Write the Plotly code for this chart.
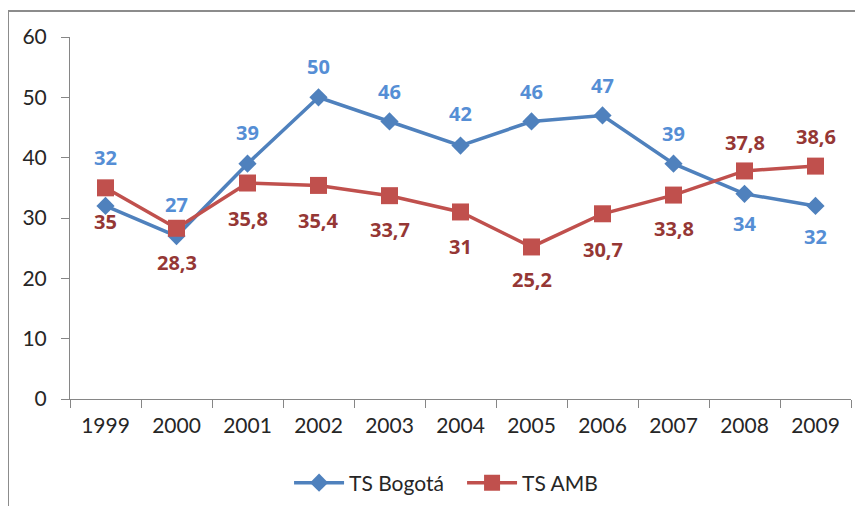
import plotly.graph_objects as go

years = ["1999", "2000", "2001", "2002", "2003", "2004", "2005", "2006", "2007", "2008", "2009"]
ts_bogota = [32, 27, 39, 50, 46, 42, 46, 47, 39, 34, 32]
ts_amb = [35, 28.3, 35.8, 35.4, 33.7, 31, 25.2, 30.7, 33.8, 37.8, 38.6]
y_ticks = [0, 10, 20, 30, 40, 50, 60]

# label vertical offsets (px, + = up)
bog_shift = [48, 32, 31, 31, 30, 32, 30, 30, 30, -30, -31]
amb_shift = [-34, -34, -35, -35, -34, -35, -33, -36, -33, 28, 30]

BLUE = "#4F81BD"
RED = "#C0504D"
BLUE_LBL = "#558ED5"
RED_LBL = "#953735"
FONT = "Lato"
LBL_FONT = "Open Sans"


def fmt(v):
    return f"{v:g}".replace(".", ",")


fig = go.Figure()
fig.add_trace(go.Scatter(
    x=years, y=ts_bogota, name="TS Bogotá", mode="lines+markers",
    line=dict(color=BLUE, width=3.5),
    marker=dict(symbol="diamond", size=14, color=BLUE),
))
fig.add_trace(go.Scatter(
    x=years, y=ts_amb, name="TS AMB", mode="lines+markers",
    line=dict(color=RED, width=3.5),
    marker=dict(symbol="square", size=17, color=RED),
))

annotations = []
for i, (v, s) in enumerate(zip(ts_bogota, bog_shift)):
    annotations.append(dict(x=i, y=v, xref="x", yref="y", text=fmt(v), showarrow=False, yshift=s,
                            font=dict(family=LBL_FONT, size=20, color=BLUE_LBL, weight="bold")))
for i, (v, s) in enumerate(zip(ts_amb, amb_shift)):
    annotations.append(dict(x=i, y=v, xref="x", yref="y", text=fmt(v), showarrow=False, yshift=s,
                            font=dict(family=LBL_FONT, size=20, color=RED_LBL, weight="bold")))

fig.update_layout(
    width=863, height=506,
    margin=dict(l=62, r=20, t=29, b=115, autoexpand=False),
    paper_bgcolor="white", plot_bgcolor="white",
    font=dict(family=FONT, size=21, color="#262626"),
    annotations=annotations,
    showlegend=True,
    legend=dict(orientation="h", x=0.502, xanchor="center", y=-0.232, yanchor="middle",
                font=dict(family=FONT, size=21, color="#262626"), itemwidth=50,
                entrywidth=108, traceorder="normal"),
    shapes=[dict(type="rect", xref="paper", yref="paper",
                 x0=-0.0794, x1=1.05, y0=-0.37, y1=1.0718,
                 line=dict(color="#8C8C8C", width=2), layer="below")],
)
fig.update_xaxes(
    type="category", range=[-0.5, 10.5], showgrid=False, automargin=False,
    showline=True, linecolor="#868686", linewidth=1,
    ticks="outside", ticklen=8, tickcolor="#868686", tickson="boundaries",
    ticklabelstandoff=8,
)
fig.update_yaxes(
    range=[0, 60], tickvals=y_ticks, showgrid=False, zeroline=False, automargin=False,
    showline=True, linecolor="#868686", linewidth=1,
    ticks="outside", ticklen=8, tickcolor="#868686",
    ticklabelstandoff=10,
)

fig.write_html("out.html")
